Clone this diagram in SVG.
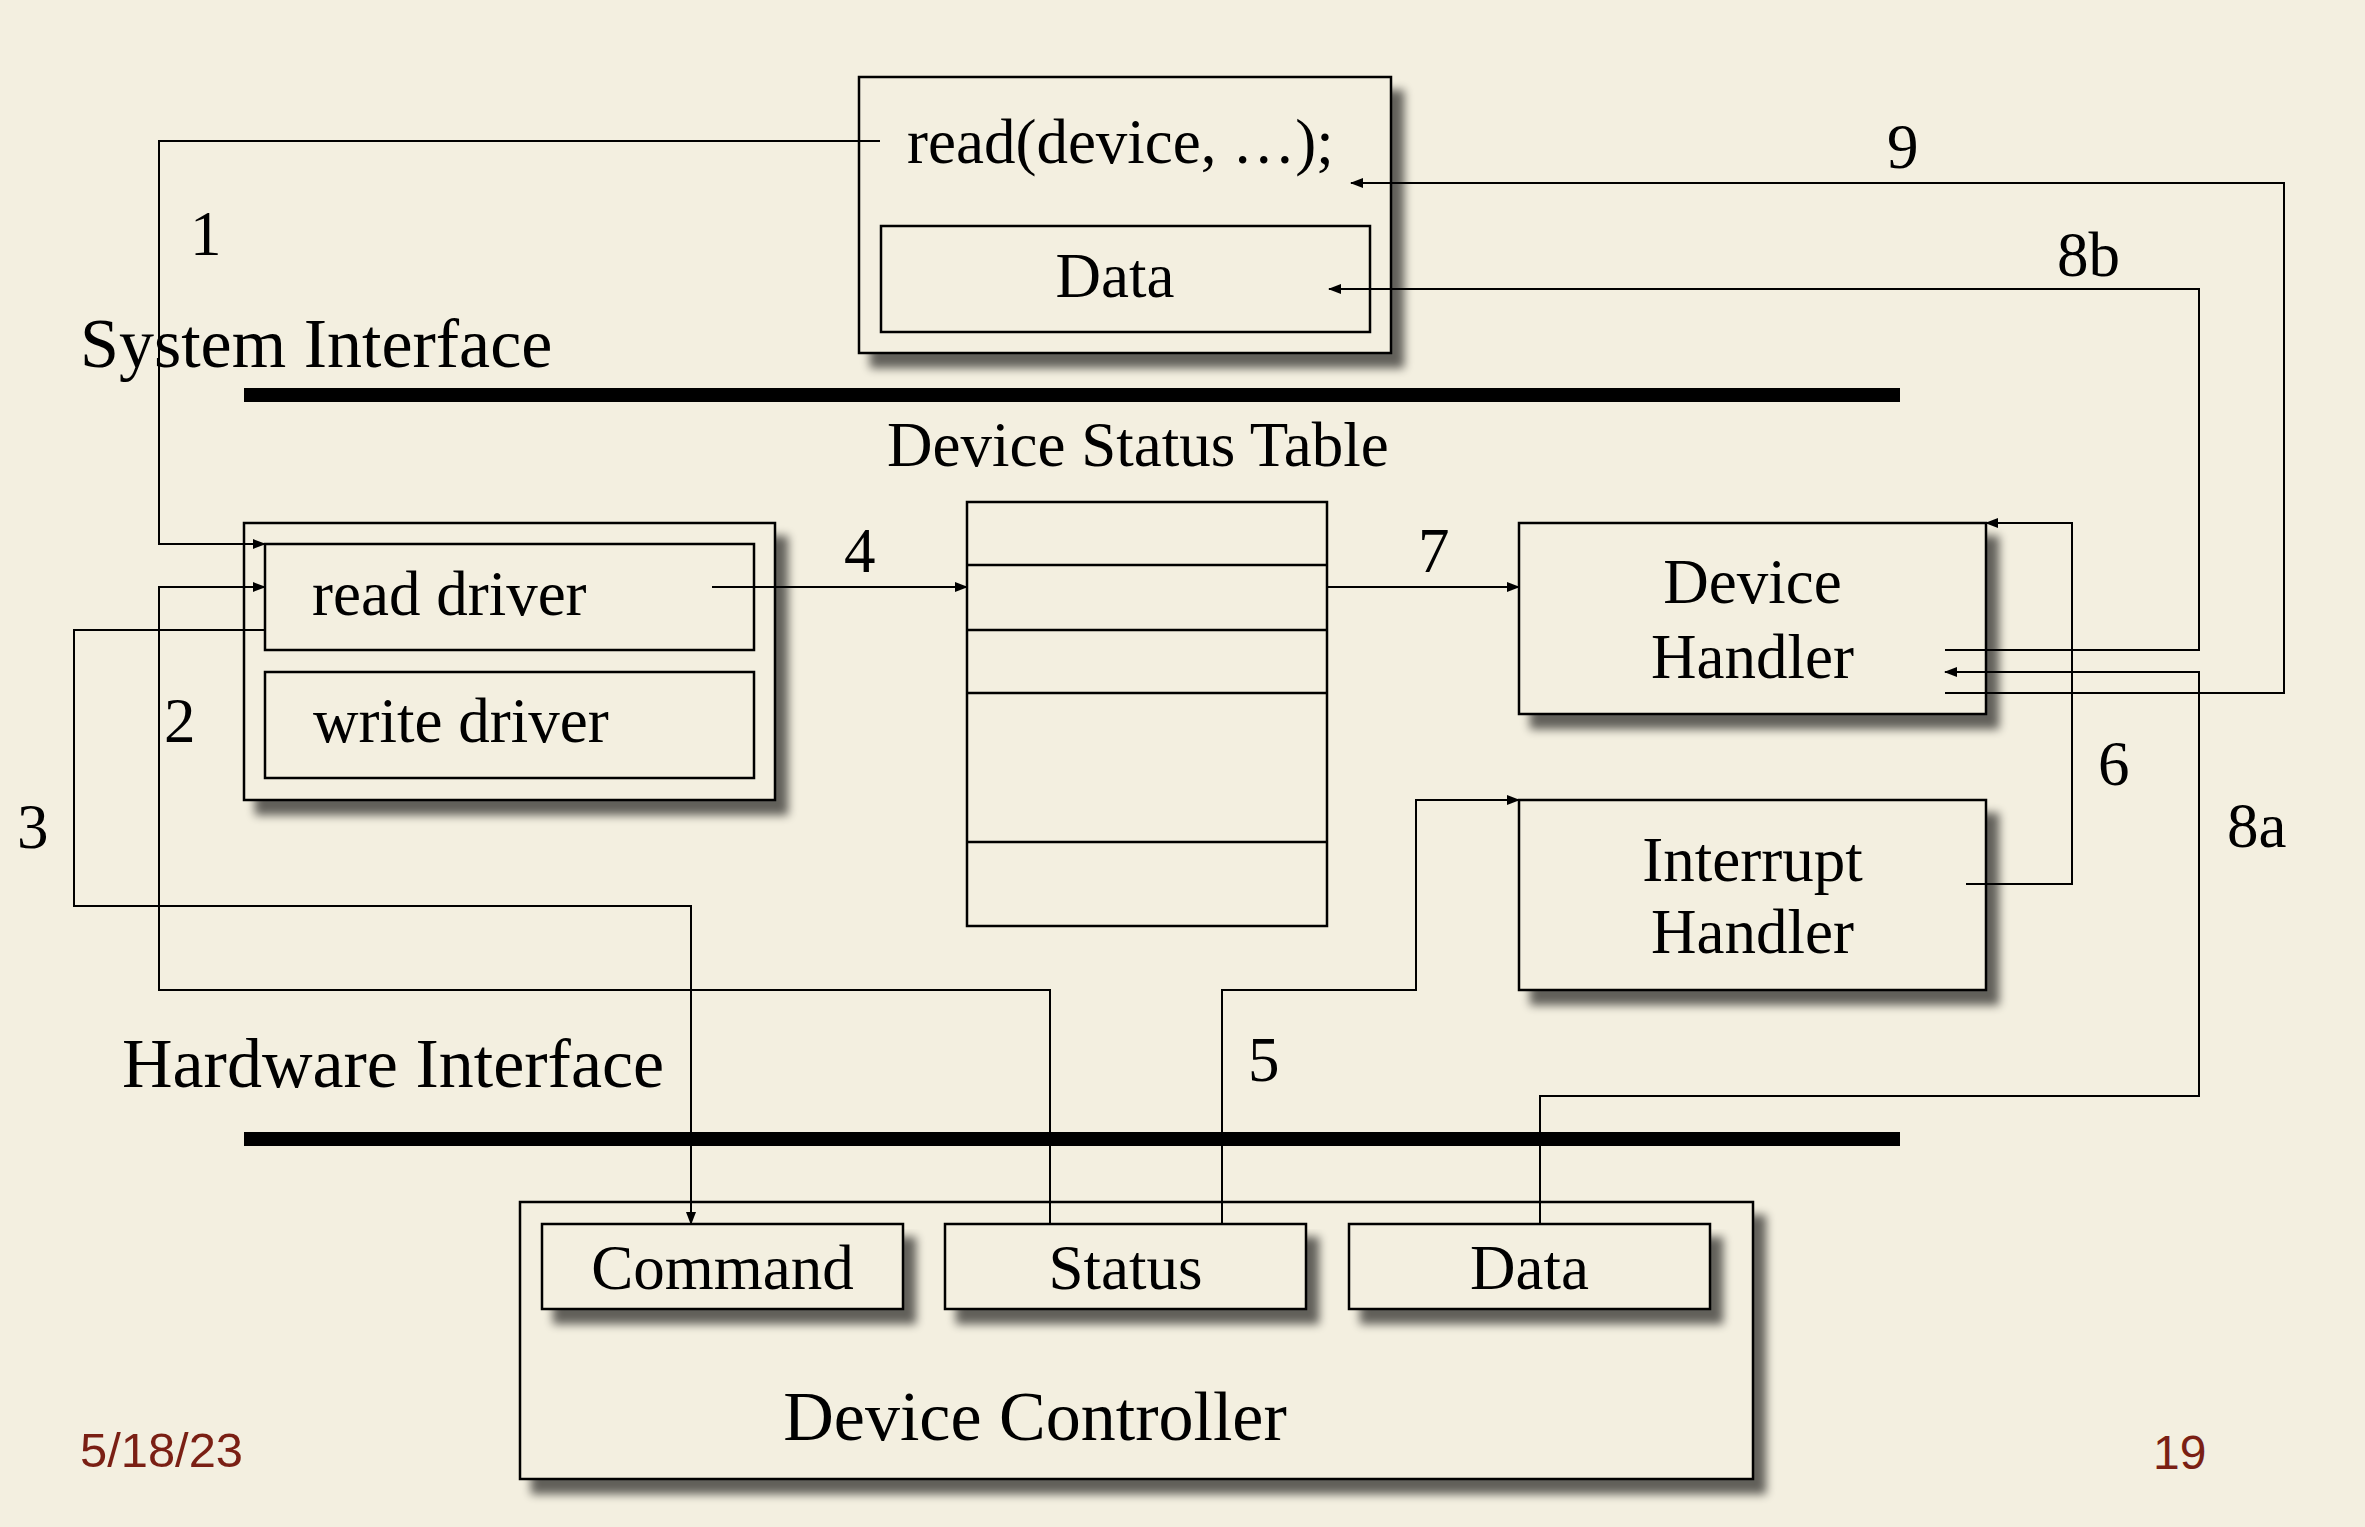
<svg xmlns="http://www.w3.org/2000/svg" width="2365" height="1527" viewBox="0 0 2365 1527">
<style>
.bx{fill:#f3efe0;stroke:#000;stroke-width:2.5}
.pl{fill:none;stroke:#000;stroke-width:2.5}
.t{font-family:"Liberation Serif","Times New Roman",serif;font-size:63px;fill:#000}
.tl{font-family:"Liberation Serif","Times New Roman",serif;font-size:70px;fill:#000}
.tm{text-anchor:middle}
.ft{font-family:"Liberation Sans",Arial,sans-serif;font-size:48px;fill:#7a1f14}
.cn{fill:none;stroke:#000;stroke-width:2;marker-end:url(#arr)}
</style>
<defs>
<marker id="arr" markerWidth="13" markerHeight="10" refX="12" refY="5" orient="auto" markerUnits="userSpaceOnUse"><path d="M0,0 L13,5 L0,10 z" fill="#000"/></marker>
<filter id="sh" x="-10%" y="-10%" width="130%" height="140%"><feGaussianBlur in="SourceAlpha" stdDeviation="5"/><feOffset dx="12" dy="14"/><feComponentTransfer><feFuncA type="linear" slope="0.6"/></feComponentTransfer><feMerge><feMergeNode/><feMergeNode in="SourceGraphic"/></feMerge></filter>
</defs>
<rect width="2365" height="1527" fill="#f3efe0"/>
<g id="bars">
<rect x="244" y="388" width="1656" height="14" fill="#000"/>
<rect x="244" y="1132" width="1656" height="14" fill="#000"/>
</g>
<g id="system-call">
<rect class="bx" x="859" y="77" width="532" height="276" filter="url(#sh)"/>
<text class="t" x="907" y="163">read(device, …);</text>
<rect class="bx" x="881" y="226" width="489" height="106"/>
<text class="t tm" x="1115" y="297">Data</text>
</g>
<g id="drivers">
<rect class="bx" x="244" y="523" width="531" height="277" filter="url(#sh)"/>
<rect class="bx" x="265" y="544" width="489" height="106"/>
<text class="t" x="312" y="615">read driver</text>
<rect class="bx" x="265" y="672" width="489" height="106"/>
<text class="t" x="313" y="742">write driver</text>
</g>
<g id="device-status-table">
<text class="t" x="887" y="466">Device Status Table</text>
<rect class="bx" x="967" y="502" width="360" height="424"/>
<path class="pl" d="M967 565H1327M967 630H1327M967 693H1327M967 842H1327"/>
</g>
<g id="device-handler">
<rect class="bx" x="1519" y="523" width="467" height="191" filter="url(#sh)"/>
<text class="t tm" x="1752.5" y="603">Device</text>
<text class="t tm" x="1752.5" y="678">Handler</text>
</g>
<g id="interrupt-handler">
<rect class="bx" x="1519" y="800" width="467" height="190" filter="url(#sh)"/>
<text class="t tm" x="1752.5" y="881">Interrupt</text>
<text class="t tm" x="1752.5" y="953">Handler</text>
</g>
<g id="device-controller">
<rect class="bx" x="520" y="1202" width="1233" height="277" filter="url(#sh)"/>
<text class="tl tm" x="1035" y="1440">Device Controller</text>
</g>
<g id="command">
<rect class="bx" x="542" y="1224" width="361" height="85" filter="url(#sh)"/>
<text class="t tm" x="722.5" y="1289">Command</text>
</g>
<g id="status">
<rect class="bx" x="945" y="1224" width="361" height="85" filter="url(#sh)"/>
<text class="t tm" x="1125.5" y="1289">Status</text>
</g>
<g id="data">
<rect class="bx" x="1349" y="1224" width="361" height="85" filter="url(#sh)"/>
<text class="t tm" x="1529.5" y="1289">Data</text>
</g>
<g id="connectors">
<path class="cn" d="M880 141H159V544H265"/>
<path class="cn" d="M1050 1224V990H159V587H265"/>
<path class="cn" d="M265 630H74V906H691V1224"/>
<path class="cn" d="M712 587H967"/>
<path class="cn" d="M1327 587H1519"/>
<path class="cn" d="M1222 1224V990H1416V800H1519"/>
<path class="cn" d="M1966 884H2072V523H1986"/>
<path class="cn" d="M1540 1224V1096H2199V672H1945"/>
<path class="cn" d="M1945 650H2199V289H1329"/>
<path class="cn" d="M1945 693H2284V183H1351"/>
</g>
<g id="labels">
<text class="tl" x="80" y="367">System Interface</text>
<text class="tl" x="122" y="1087">Hardware Interface</text>
<text class="t" x="190" y="255">1</text>
<text class="t" x="164" y="742">2</text>
<text class="t" x="17" y="848">3</text>
<text class="t" x="844" y="572">4</text>
<text class="t" x="1248" y="1081">5</text>
<text class="t" x="2098" y="785">6</text>
<text class="t" x="1418" y="572">7</text>
<text class="t" x="2227" y="847">8a</text>
<text class="t" x="2057" y="276">8b</text>
<text class="t" x="1887" y="168">9</text>
<text class="ft" x="80" y="1467" textLength="163" lengthAdjust="spacingAndGlyphs">5/18/23</text>
<text class="ft" x="2153" y="1469">19</text>
</g>
</svg>
